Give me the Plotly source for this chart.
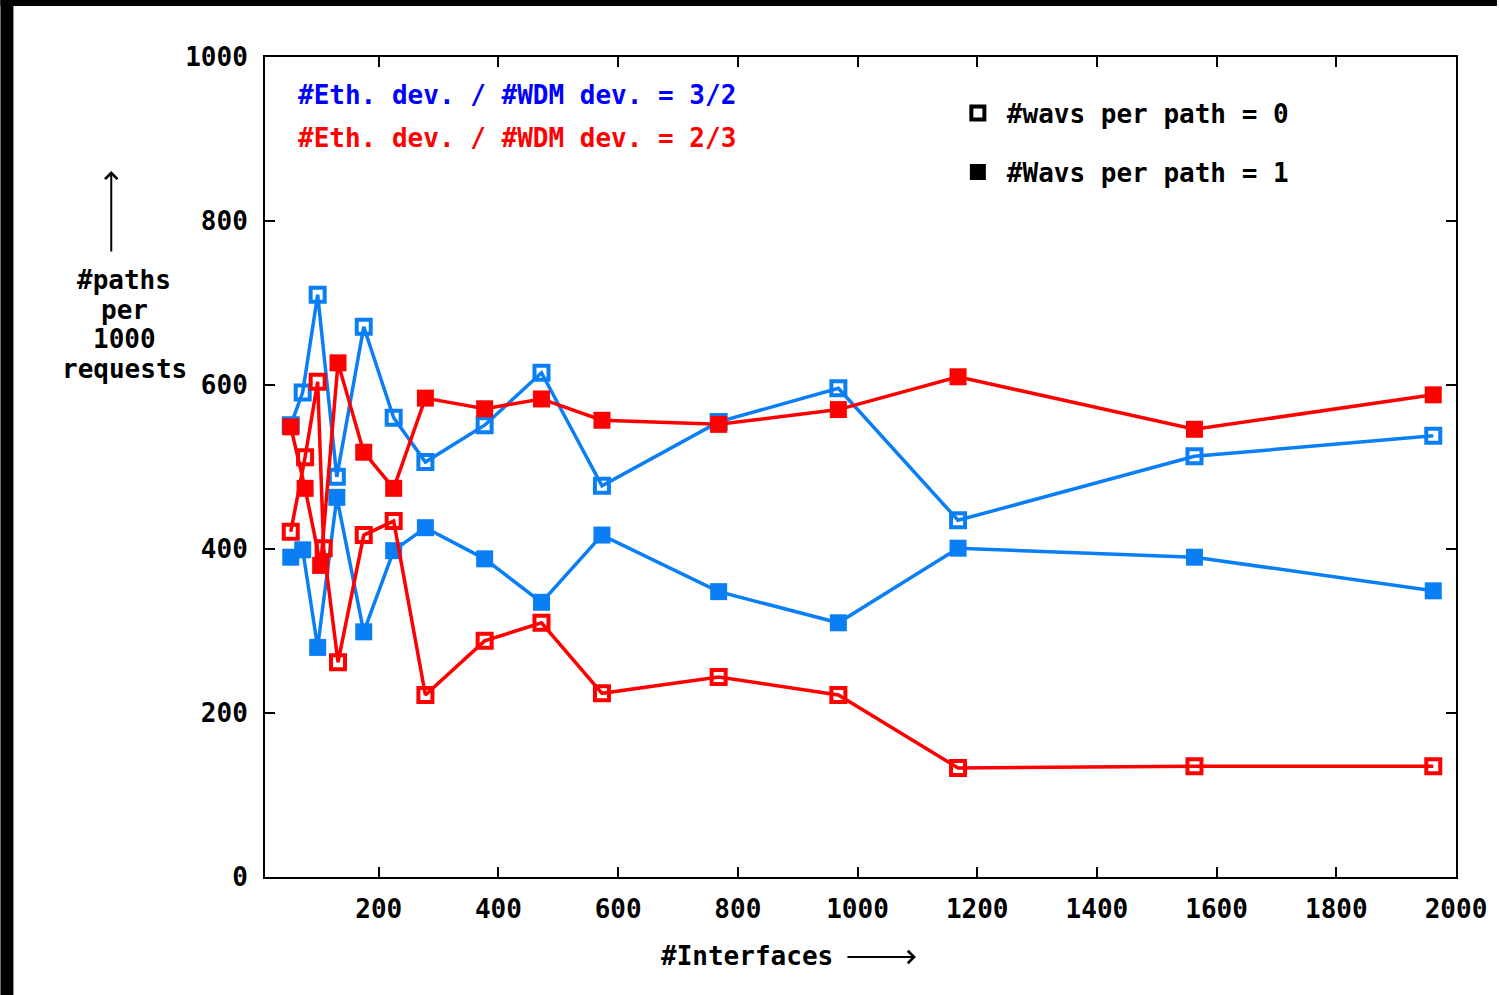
import plotly.graph_objects as go

# Number of interfaces (x) and paths per 1000 requests (y) for each configuration
x_blue = [53, 73, 98, 130, 175, 225, 278, 377, 472, 573, 768, 968, 1168, 1563, 1962]
blue_wavs0 = [551, 591, 710, 488, 671, 560, 506, 551, 615, 477, 555, 596, 435, 513, 538]
blue_wavs1 = [390, 399, 280, 463, 299, 398, 426, 388, 335, 417, 348, 310, 401, 390, 349]

x_red_wavs1 = [53, 77, 103, 132, 175, 225, 278, 377, 472, 573, 768, 968, 1168, 1563, 1962]
red_wavs1 = [549, 474, 380, 627, 518, 474, 584, 571, 583, 557, 552, 570, 610, 546, 588]

x_red_wavs0 = [53, 77, 98, 108, 132, 175, 225, 278, 377, 472, 573, 768, 968, 1168, 1563, 1962]
red_wavs0 = [421, 512, 604, 401, 262, 417, 434, 222, 288, 310, 224, 244, 222, 133, 135, 135]

x_ticks = [200, 400, 600, 800, 1000, 1200, 1400, 1600, 1800, 2000]
y_ticks = [0, 200, 400, 600, 800, 1000]

ylabel_lines = ["#paths", "per", "1000", "requests"]

BLUE = "#0a7ff5"
RED = "#ff0000"
FONT = "DejaVu Sans Mono"
FS = 26

W, H = 1499, 995
L, R, T, B = 265, 1458, 57, 877


def px(xp):
    return (xp - L) / (R - L)


def py(yp):
    return (B - yp) / (B - T)


fig = go.Figure()

open_marker = dict(symbol="square-open", size=14, line=dict(width=4))
fill_marker = dict(symbol="square", size=17)

fig.add_trace(go.Scatter(x=x_blue, y=blue_wavs0, mode="lines+markers", showlegend=False,
                         line=dict(color=BLUE, width=3.5),
                         marker=dict(color=BLUE, **open_marker)))
fig.add_trace(go.Scatter(x=x_blue, y=blue_wavs1, mode="lines+markers", showlegend=False,
                         line=dict(color=BLUE, width=3.5),
                         marker=dict(color=BLUE, **fill_marker)))
fig.add_trace(go.Scatter(x=x_red_wavs0, y=red_wavs0, mode="lines+markers", showlegend=False,
                         line=dict(color=RED, width=3.5),
                         marker=dict(color=RED, **open_marker)))
fig.add_trace(go.Scatter(x=x_red_wavs1, y=red_wavs1, mode="lines+markers", showlegend=False,
                         line=dict(color=RED, width=3.5),
                         marker=dict(color=RED, **fill_marker)))

# Marker-style key
fig.add_trace(go.Scatter(x=[None], y=[None], mode="markers", name="#wavs per path = 0",
                         marker=dict(symbol="square-open", size=13, color="black", line=dict(width=4, color="black")),
                         legend="legend"))
fig.add_trace(go.Scatter(x=[None], y=[None], mode="markers", name="#Wavs per path = 1",
                         marker=dict(symbol="square", size=17, color="black"),
                         legend="legend2"))

legend_common = dict(font=dict(family=FONT, size=FS, color="black", weight="bold"),
                     bgcolor="rgba(0,0,0,0)", borderwidth=0, xanchor="left", yanchor="middle",
                     itemwidth=48)

axis_common = dict(ticks="inside", ticklen=10, tickwidth=2, tickcolor="black",
                   showline=True, linecolor="black", linewidth=2, mirror="ticks",
                   showgrid=False, zeroline=False,
                   tickfont=dict(family=FONT, size=FS, color="black", weight="bold"))

fig.update_layout(
    width=W, height=H,
    margin=dict(l=L, r=W - R, t=T, b=H - B),
    paper_bgcolor="white", plot_bgcolor="white",
    font=dict(family=FONT, size=FS, color="black"),
    legend=dict(x=px(950), y=py(113), **legend_common),
    legend2=dict(x=px(950), y=py(172), **legend_common),
    xaxis=dict(range=[10, 2000], tickvals=x_ticks, ticktext=[str(v) for v in x_ticks],
               ticklabelstandoff=8, **axis_common),
    yaxis=dict(range=[0, 1000], tickvals=y_ticks, ticktext=[str(v) for v in y_ticks],
               ticklabelstandoff=10, **axis_common),
)

bold = dict(family=FONT, size=FS, weight="bold")

fig.add_annotation(xref="paper", yref="paper", x=px(296), y=py(95), xanchor="left", yanchor="middle",
                   text="#Eth. dev. / #WDM dev. = 3/2", showarrow=False, font=dict(color="#0000ff", **bold))
fig.add_annotation(xref="paper", yref="paper", x=px(296), y=py(138), xanchor="left", yanchor="middle",
                   text="#Eth. dev. / #WDM dev. = 2/3", showarrow=False, font=dict(color=RED, **bold))

# Y axis title, one line per annotation, with an upward arrow
for i, line in enumerate(ylabel_lines):
    fig.add_annotation(xref="paper", yref="paper", x=px(124), y=py(280 + 29.7 * i),
                       xanchor="center", yanchor="middle", text=line, showarrow=False,
                       font=dict(color="black", **bold))
fig.add_annotation(xref="paper", yref="paper", x=px(111), y=py(171), ax=0, ay=82, text="",
                   showarrow=True, arrowhead=4, arrowsize=1.2, arrowwidth=2, arrowcolor="black")

# X axis title with rightward arrow
fig.add_annotation(xref="paper", yref="paper", x=px(748), y=py(956), xanchor="center", yanchor="middle",
                   text="#Interfaces", showarrow=False, font=dict(color="black", **bold))
fig.add_annotation(xref="paper", yref="paper", x=px(917), y=py(957), ax=-70, ay=0, text="",
                   showarrow=True, arrowhead=4, arrowsize=1.2, arrowwidth=2, arrowcolor="black")

# Dark frame strips along the top and left edges of the page
fig.add_shape(type="rect", xref="paper", yref="paper", x0=px(0), x1=px(W), y0=py(6), y1=py(0),
              fillcolor="black", line=dict(width=0), layer="above")
fig.add_shape(type="rect", xref="paper", yref="paper", x0=px(0), x1=px(13), y0=py(H), y1=py(0),
              fillcolor="black", line=dict(width=0), layer="above")

fig.write_html("out.html")
